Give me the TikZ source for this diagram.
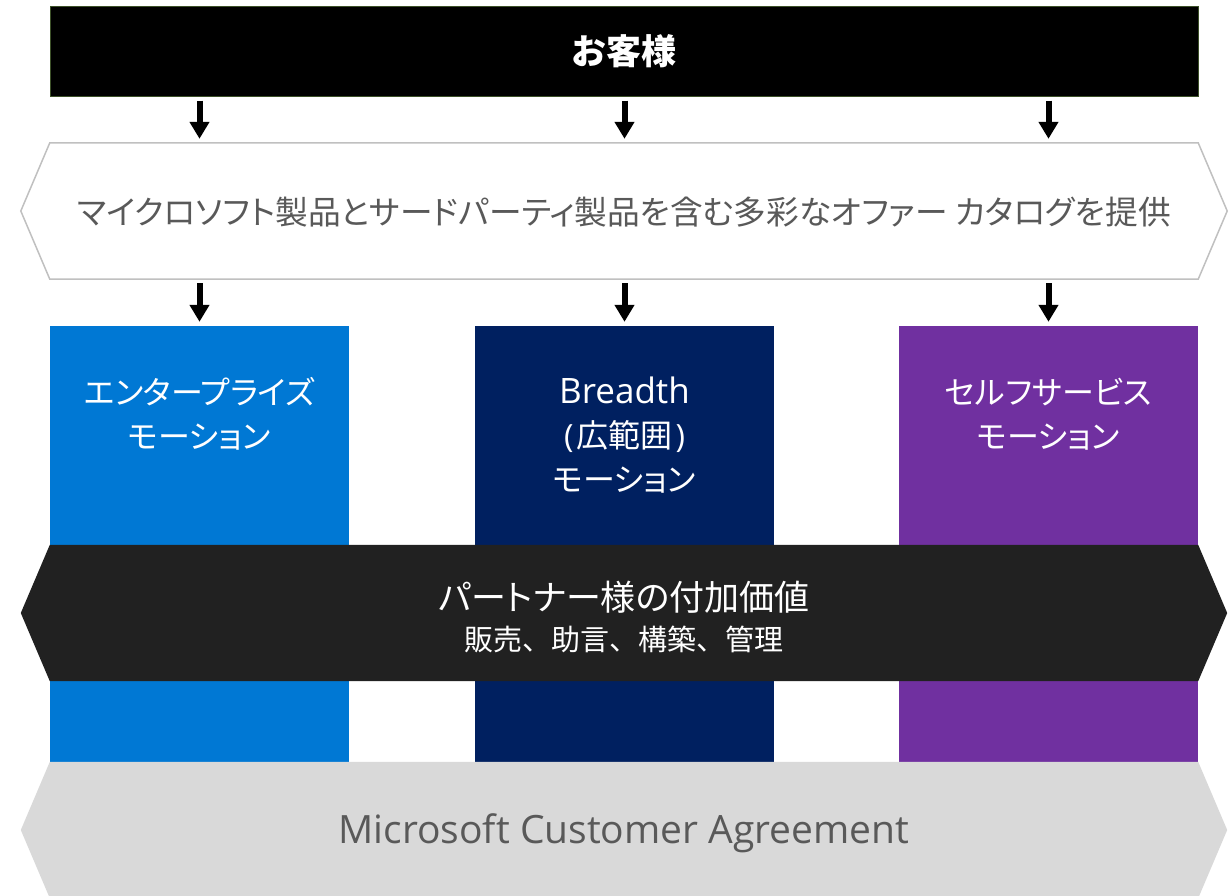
\documentclass[tikz,border=0pt]{standalone}
\usepackage{fontspec}
\setmainfont{Noto Sans CJK JP}
\newfontfamily\jpp{Noto Sans CJK JP}[RawFeature=+palt]
\newfontfamily\lat{Open Sans}
\usetikzlibrary{calc,arrows.meta}
\definecolor{entblue}{HTML}{0078D4}
\definecolor{navy}{HTML}{002060}
\definecolor{purp}{HTML}{7030A0}
\definecolor{darkhex}{HTML}{212121}
\definecolor{greyhex}{HTML}{D9D9D9}
\definecolor{txtgrey}{HTML}{595959}
\definecolor{hexline}{HTML}{C0C0C0}
\definecolor{topline}{HTML}{3C5028}
\tikzset{
  holder/.style={rectangle, inner sep=0pt, minimum width=1148pt, minimum height=136pt},
  colbox/.style={rectangle, inner sep=0pt, minimum width=299pt, minimum height=436pt},
  coltext/.style={text=white, align=center, inner sep=0pt, font={\jpp\fontsize{32pt}{44pt}\selectfont}},
  arr/.style={line width=6pt, -{Triangle[width=19pt,length=17pt]}, shorten <=4pt, shorten >=4pt}
}
\begin{document}
\begin{tikzpicture}[x=1pt,y=-1pt]
\useasboundingbox (0,0) rectangle (1229,895);
% top bar
\node[rectangle, inner sep=0pt, minimum width=1148pt, minimum height=90pt, fill=black, draw=topline, line width=1pt,
  text=white, font={\bfseries\fontsize{35pt}{40pt}\selectfont}] (cust) at (624,51) {お客様};
% columns
\node[colbox, fill=entblue] (ent) at (199.5,544) {};
\node[colbox, fill=navy] (brd) at (624.5,544) {};
\node[colbox, fill=purp] (self) at (1048.5,544) {};
\node[coltext] (enttext) at (199.5,414) {エンタープライズ\\モーション};
\node[coltext] (brdtext) at (624.5,435) {{\lat\fontsize{35pt}{44pt}\selectfont Breadth}\\{\lat (}\hspace{3pt}広範囲\hspace{3pt}{\lat )}\\モーション};
\node[coltext] (selftext) at (1048.5,414) {セルフサービス\\モーション};
% offer hexagon
\node[holder] (offer) at (624,211) {};
\draw[fill=white, draw=hexline, line width=1.5pt] (offer.north west) -- (offer.north east) -- ($(offer.east)+(29,0)$)
  -- (offer.south east) -- (offer.south west) -- ($(offer.west)+(-29,0)$) -- cycle;
\node[text=txtgrey, inner sep=0pt, font={\jpp\fontsize{32.7pt}{40pt}\selectfont}] (offertext) at (624,212) {マイクロソフト製品とサードパーティ製品を含む多彩なオファー カタログを提供};
% partner hexagon
\node[holder] (partner) at (624,613) {};
\fill[darkhex] (partner.north west) -- (partner.north east) -- ($(partner.east)+(29,0)$)
  -- (partner.south east) -- (partner.south west) -- ($(partner.west)+(-29,0)$) -- cycle;
\node[text=white, align=center, inner sep=0pt] (partnertext) at (624,617)
  {{\jpp\fontsize{35pt}{41pt}\selectfont パートナー様の付加価値}\\[12pt]{\fontsize{29pt}{44pt}\selectfont 販売、助言、構築、管理}};
% MCA hexagon
\node[holder] (mca) at (624,830) {};
\fill[greyhex] (mca.north west) -- (mca.north east) -- ($(mca.east)+(29,0)$)
  -- (mca.south east) -- (mca.south west) -- ($(mca.west)+(-29,0)$) -- cycle;
\node[text=txtgrey, inner sep=0pt, font={\lat\fontsize{39pt}{44pt}\selectfont}] (mcatext) at (624,833) {Microsoft Customer Agreement};
% arrows
\draw[arr] (cust.south -| ent.north) -- (offer.north -| ent.north);
\draw[arr] (cust.south -| brd.north) -- (offer.north -| brd.north);
\draw[arr] (cust.south -| self.north) -- (offer.north -| self.north);
\draw[arr] (offer.south -| ent.north) -- (ent.north);
\draw[arr] (offer.south -| brd.north) -- (brd.north);
\draw[arr] (offer.south -| self.north) -- (self.north);
\end{tikzpicture}
\end{document}
